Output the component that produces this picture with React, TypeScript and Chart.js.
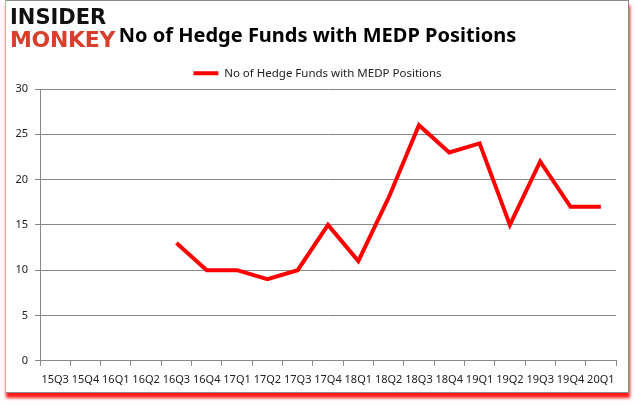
import React, { useEffect, useRef } from "react";
import { Chart, registerables } from "chart.js";

Chart.register(...registerables);

const categories = [
  "15Q3", "15Q4", "16Q1", "16Q2", "16Q3", "16Q4", "17Q1", "17Q2", "17Q3", "17Q4",
  "18Q1", "18Q2", "18Q3", "18Q4", "19Q1", "19Q2", "19Q3", "19Q4", "20Q1",
];
const hedgeFunds: (number | null)[] = [
  null, null, null, null, 13, 10, 10, 9, 10, 15, 11, 18, 26, 23, 24, 15, 22, 17, 17,
];
const seriesLabel = "No of Hedge Funds with MEDP Positions";
const titleText = "No of Hedge Funds with MEDP Positions";
const yMin = 0;
const yMax = 30;
const yStep = 5;

export default function App() {
  const canvasRef = useRef<HTMLCanvasElement | null>(null);

  useEffect(() => {
    const canvas = canvasRef.current;
    if (!canvas) return;
    const chart = new Chart(canvas, {
      type: "line",
      data: {
        labels: categories,
        datasets: [
          {
            label: seriesLabel,
            data: hedgeFunds,
            borderColor: "#ff0000",
            backgroundColor: "#ff0000",
            borderWidth: 4,
            pointRadius: 0,
            pointHoverRadius: 0,
            tension: 0,
            spanGaps: false,
          },
        ],
      },
      options: {
        responsive: false,
        animation: false,
        devicePixelRatio: 1,
        layout: { padding: { left: 0, right: 0, top: 0, bottom: 12 } },
        plugins: {
          title: {
            display: true,
            text: titleText,
            color: "#000",
            font: { family: "'Noto Sans'", size: 20, weight: "bold" },
            padding: { top: 12, bottom: 9.3 },
          },
          legend: {
            display: true,
            labels: {
              usePointStyle: true,
              pointStyle: "line",
              pointStyleWidth: 25,
              color: "#222",
              font: { family: "'Noto Sans'", size: 11.5 },
              padding: 10,
            },
          },
          tooltip: { enabled: false },
        },
        scales: {
          x: {
            offset: true,
            grid: {
              display: true,
              offset: true,
              drawOnChartArea: false,
              drawTicks: true,
              tickLength: 5,
              color: "#888",
            },
            border: { display: true, color: "#888", width: 1 },
            ticks: {
              color: "#222",
              font: { family: "'Noto Sans'", size: 11 },
              padding: 7,
              maxRotation: 0,
              autoSkip: false,
            },
            afterFit: (scale: any) => {
              scale.paddingRight = 19;
            },
          },
          y: {
            min: yMin,
            max: yMax,
            grid: { color: "#888", tickLength: 5, lineWidth: 1 },
            border: { display: true, color: "#888", width: 1 },
            ticks: {
              stepSize: yStep,
              color: "#222",
              font: { family: "'Noto Sans'", size: 11 },
              padding: 7,
            },
            afterFit: (scale: any) => {
              scale.width = 40;
              scale.paddingTop = 89;
            },
          },
        },
      },
    });
    return () => chart.destroy();
  }, []);

  return (
    <div style={{ position: "fixed", left: 0, top: 0, width: 635, height: 405, background: "#fff" }}>
      <div
        style={{
          position: "absolute",
          left: 5,
          top: 0,
          width: 624,
          height: 393,
          boxSizing: "border-box",
          border: "1px solid #8c8c8c",
          borderLeft: "1px solid #f0a0a0",
          boxShadow: "1px 5px 3px rgba(255,0,0,0.9)",
          background: "#fff",
        }}
      />
      <canvas
        ref={canvasRef}
        width={635}
        height={405}
        style={{ position: "absolute", left: 0, top: 0, width: 635, height: 405 }}
      />
      <div
        style={{
          position: "absolute",
          left: 10,
          top: 7,
          fontFamily: "'DejaVu Sans', sans-serif",
          fontWeight: 900,
          lineHeight: 1,
        }}
      >
        <div style={{ fontSize: 21, color: "#111", letterSpacing: 0 }}>INSIDER</div>
        <div style={{ fontSize: 22, color: "#d6402c", letterSpacing: -0.3, marginTop: 1 }}>MONKEY</div>
      </div>
    </div>
  );
}
